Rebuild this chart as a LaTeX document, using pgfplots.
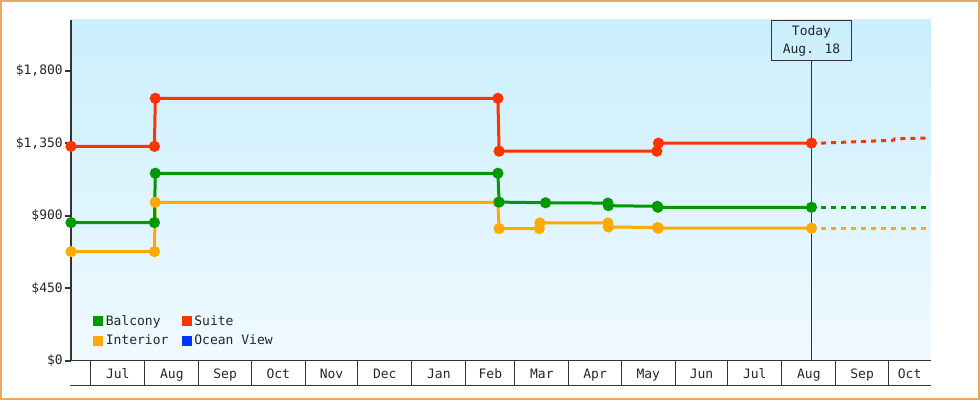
\documentclass[border=0pt]{standalone}
\usepackage{fontspec}
\setmainfont{DejaVu Sans Mono}
\usepackage{pgfplots}
\pgfplotsset{compat=1.18}
\definecolor{balcony}{HTML}{009900}
\definecolor{suite}{HTML}{FF3300}
\definecolor{interior}{HTML}{FFAA00}
\definecolor{ocean}{HTML}{0033FF}
\definecolor{bgtop}{HTML}{CAEEFC}
\definecolor{bgbot}{HTML}{F0FAFF}
\definecolor{axdark}{HTML}{333333}
\definecolor{framec}{HTML}{E8A860}
\newcommand{\cf}{\fontsize{13}{16}\selectfont}
\begin{document}
\begin{tikzpicture}
\useasboundingbox (0pt,0pt) rectangle (980pt,400pt);
\draw[framec, line width=2pt] (1pt,1pt) rectangle (979pt,399pt);
\begin{axis}[
  at={(71pt,39.3pt)}, anchor=south west,
  scale only axis, width=859.7pt, height=340.7pt,
  xmin=-11.3, xmax=481.3, ymin=0, ymax=2114,
  clip=false,
  axis background/.style={shade, top color=bgtop, bottom color=bgbot},
  axis x line=bottom, axis y line=left,
  x axis line style={-, draw=axdark, line width=1pt},
  y axis line style={-, draw=axdark, line width=2pt},
  tick align=outside, major tick length=6pt,
  ytick={0,450,900,1350,1800},
  yticklabels={{\$0},{\$450},{\$900},{\$1,350},{\$1,800}},
  ytick style={draw=axdark, line width=2pt},
  xtick={15.5,46.5,77,107.5,138,168.5,199.5,229,258.5,289,319.5,350,380.5,411.5,442,469.2},
  xticklabels={Jul,Aug,Sep,Oct,Nov,Dec,Jan,Feb,Mar,Apr,May,Jun,Jul,Aug,Sep,Oct},
  xtick style={draw=none},
  tick label style={font=\cf, text=black!85},
  xticklabel style={anchor=base, yshift=-11.5pt},
  yticklabel style={anchor=east, inner xsep=2pt},
  legend columns=2,
  legend cell align=left,
  legend image code/.code={\fill[#1, draw=none] (0pt,-5pt) rectangle (10pt,5pt);},
  legend style={at={(rel axis cs:0,0)}, anchor=south west, xshift=22.3pt, yshift=13pt,
    draw=none, fill=none, inner sep=0pt, outer sep=0pt, row sep=5.7pt,
    font=\cf, text=black!85,
    nodes={inner xsep=2.5pt, inner ysep=0pt, text height=11pt, text depth=3pt},
    /tikz/every even column/.append style={column sep=11pt}},
]
\addlegendimage{draw=none, fill=balcony}\addlegendentry{Balcony}
\addlegendimage{draw=none, fill=suite}\addlegendentry{Suite}
\addlegendimage{draw=none, fill=interior}\addlegendentry{Interior}
\addlegendimage{draw=none, fill=ocean}\addlegendentry{Ocean View}

% month separators and bottom rule
\pgfplotsinvokeforeach{0,31,62,92,123,153,184,215,243,274,304,335,365,396,427,457}{
  \draw[axdark, line width=1pt] (axis cs:#1,0) -- ([yshift=-24.3pt]axis cs:#1,0);
}
\draw[axdark, line width=1pt] ([yshift=-24.3pt]axis cs:-11.9,0) -- ([yshift=-24.3pt]axis cs:481.3,0);

% today marker
\node[draw=axdark, line width=1pt, anchor=north, minimum width=80.4pt, minimum height=40.4pt,
  align=center, font=\fontsize{13}{18.3}\selectfont, text=black!85, inner sep=0pt]
  (today) at (axis cs:413,2114) {Today\\Aug. 18};
\draw[axdark, line width=1pt] (axis cs:413,0) -- (today.south);

% Interior
\addplot[interior, line width=3pt, mark=*, mark size=4pt, mark options={draw=none, fill=interior}, forget plot]
coordinates {(-11.3,677) (36.5,677) (37,983) (233.3,983) (234,820) (257,820) (257.4,855) (296.3,855) (296.6,830) (324.8,826) (325.2,822) (413,822)};
% Balcony
\addplot[balcony, line width=3pt, mark=*, mark size=4pt, mark options={draw=none, fill=balcony}, forget plot]
coordinates {(-11.3,857) (36.5,857) (37,1163) (233.3,1163) (234,984) (260.6,980) (296.3,978) (296.6,962) (324.6,958) (325,952) (413,952)};
% Suite
\addplot[suite, line width=3pt, mark=*, mark size=4pt, mark options={draw=none, fill=suite}, forget plot]
coordinates {(-11.3,1330) (36.5,1330) (37,1628) (233.3,1628) (234,1300) (324.4,1300) (325.3,1350) (413,1350)};

% forecasts
\addplot[interior, line width=3pt, dash pattern=on 5pt off 5pt, forget plot]
coordinates {(418.5,822) (479,822)};
\addplot[balcony, line width=3pt, dash pattern=on 5pt off 5pt, forget plot]
coordinates {(418.5,952) (479,952)};
\addplot[suite, line width=3pt, dash pattern=on 5pt off 5pt, forget plot]
coordinates {(418.5,1350) (460,1368) (460.5,1376) (479,1382)};
\end{axis}
\end{tikzpicture}
\end{document}
